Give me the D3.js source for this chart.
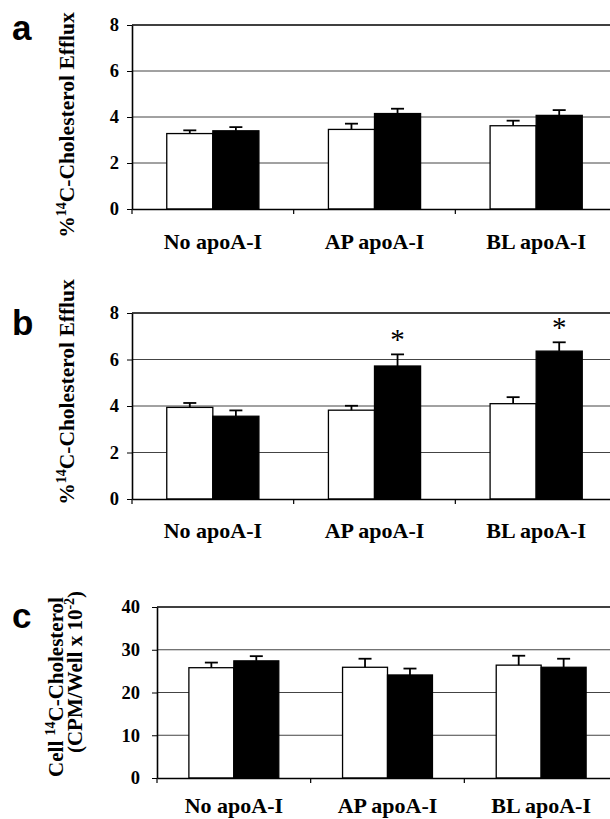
<!DOCTYPE html>
<html><head><meta charset="utf-8">
<script src="https://cdn.jsdelivr.net/npm/d3@7"></script>
<style>body{margin:0;background:#fff} svg text{font-family:"Liberation Serif","Times New Roman",serif !important;font-weight:bold;fill:#000}</style>
</head><body><svg id="chart" width="610" height="819"></svg>
<script>
// ---- data ----
const categories = ["No apoA-I", "AP apoA-I", "BL apoA-I"];
const series = ["white", "black"];

const aWhite = [3.28, 3.46, 3.62];
const aWhiteErr = [0.14, 0.25, 0.22];
const aBlack = [3.40, 4.15, 4.07];
const aBlackErr = [0.16, 0.21, 0.23];

const bWhite = [3.94, 3.82, 4.10];
const bWhiteErr = [0.19, 0.19, 0.28];
const bBlack = [3.56, 5.72, 6.36];
const bBlackErr = [0.25, 0.50, 0.38];
const bBlackSignificant = [false, true, true];

const cWhite = [25.8, 25.9, 26.4];
const cWhiteErr = [1.2, 2.0, 2.2];
const cBlack = [27.4, 24.1, 25.9];
const cBlackErr = [1.1, 1.5, 2.0];

const effluxTicks = [0, 2, 4, 6, 8];
const cellTicks = [0, 10, 20, 30, 40];

// ---- drawing ----
const svg = d3.select("#chart");
const fillOf = {white: "#fff", black: "#000"};

const panels = [
  {letter: "a", lx: 12, ly: 40, left: 132, right: 617, top: 25, bottom: 209, ticks: effluxTicks,
   white: aWhite, whiteErr: aWhiteErr, black: aBlack, blackErr: aBlackErr, sig: null,
   barFrac: 0.57, tickPad: 8, catY: 249},
  {letter: "b", lx: 12, ly: 335, left: 132, right: 617, top: 313, bottom: 499, ticks: effluxTicks,
   white: bWhite, whiteErr: bWhiteErr, black: bBlack, blackErr: bBlackErr, sig: bBlackSignificant,
   barFrac: 0.57, tickPad: 8, catY: 538},
  {letter: "c", lx: 12, ly: 628, left: 157, right: 618, top: 607, bottom: 778, ticks: cellTicks,
   white: cWhite, whiteErr: cWhiteErr, black: cBlack, blackErr: cBlackErr, sig: null,
   barFrac: 0.585, tickPad: 12, catY: 813}
];

panels.forEach(p => {
  const g = svg.append("g");
  const x0 = d3.scaleBand().domain(categories).range([p.left, p.right]).padding(0);
  const y = d3.scaleLinear().domain([p.ticks[0], p.ticks[p.ticks.length - 1]]).range([p.bottom, p.top]);
  const x1 = d3.scaleBand().domain(series).range([0, x0.bandwidth() * p.barFrac]);
  const off = x0.bandwidth() * (1 - p.barFrac) / 2;
  const yMax = p.ticks[p.ticks.length - 1];

  g.append("g").selectAll("line").data(p.ticks.slice(1, -1)).join("line")
    .attr("x1", p.left).attr("x2", p.right)
    .attr("y1", d => y(d)).attr("y2", d => y(d))
    .attr("stroke", "#444").attr("stroke-width", 1);
  g.append("line").attr("x1", p.left).attr("x2", p.right)
    .attr("y1", y(yMax)).attr("y2", y(yMax))
    .attr("stroke", "#000").attr("stroke-width", 1.6);
  g.append("line").attr("x1", p.right).attr("x2", p.right)
    .attr("y1", y(yMax)).attr("y2", y(0)).attr("stroke", "#000").attr("stroke-width", 1.6);

  const rows = categories.map((c, i) => [
    {cat: c, s: "white", v: p.white[i], e: p.whiteErr[i], sig: false},
    {cat: c, s: "black", v: p.black[i], e: p.blackErr[i], sig: p.sig ? p.sig[i] : false}
  ]).flat();

  const bx = d => x0(d.cat) + off + x1(d.s);
  const cx = d => bx(d) + x1.bandwidth() / 2;
  g.append("g").selectAll("rect").data(rows).join("rect")
    .attr("x", bx).attr("width", x1.bandwidth())
    .attr("y", d => y(d.v)).attr("height", d => y(0) - y(d.v))
    .attr("fill", d => fillOf[d.s]).attr("stroke", "#000").attr("stroke-width", 1.3);
  const eg = g.append("g").attr("stroke", "#000").attr("stroke-width", 1.8);
  eg.selectAll("line.v").data(rows).join("line").attr("class", "v")
    .attr("x1", cx).attr("x2", cx)
    .attr("y1", d => y(d.v)).attr("y2", d => y(d.v + d.e));
  eg.selectAll("line.c").data(rows).join("line").attr("class", "c")
    .attr("x1", d => cx(d) - 6.5).attr("x2", d => cx(d) + 6.5)
    .attr("y1", d => y(d.v + d.e)).attr("y2", d => y(d.v + d.e));
  g.append("g").selectAll("text").data(rows.filter(d => d.sig)).join("text")
    .attr("x", cx).attr("y", d => y(d.v + d.e) - 5)
    .attr("text-anchor", "middle").style("font-weight", "normal").style("font-size", "29px").text("*");

  const ya = g.append("g").attr("transform", `translate(${p.left},0)`)
    .call(d3.axisLeft(y).tickValues(p.ticks).tickSize(5).tickSizeOuter(0).tickPadding(p.tickPad).tickFormat(d3.format("d")));
  ya.attr("font-size", null);
  ya.select(".domain").attr("stroke-width", 1.6);
  ya.selectAll("text").style("font-size", "18.5px");
  const xa = g.append("g").attr("transform", `translate(0,${p.bottom})`)
    .call(d3.axisBottom(x0).tickSize(0).tickSizeOuter(0).tickFormat(""));
  xa.select(".domain").attr("stroke-width", 1.6);
  xa.selectAll("line.bt").data(categories).join("line").attr("class", "bt")
    .attr("x1", d => x0(d)).attr("x2", d => x0(d)).attr("y1", 0).attr("y2", 5)
    .attr("stroke", "#000").attr("stroke-width", 1.2);
  g.append("g").selectAll("text").data(categories).join("text")
    .attr("x", d => x0(d) + x0.bandwidth() / 2).attr("y", p.catY)
    .attr("text-anchor", "middle").style("font-size", "22px").text(d => d);

  g.append("text").attr("x", p.lx).attr("y", p.ly)
    .attr("style", "font-family:'Liberation Sans',Arial,sans-serif !important;font-size:35px;font-weight:bold").text(p.letter);
});

function effluxTitle(tx, ty) {
  const t = svg.append("text").attr("transform", `translate(${tx},${ty}) rotate(-90)`)
    .attr("text-anchor", "middle").style("font-size", "21.5px");
  t.append("tspan").text("%");
  t.append("tspan").attr("dy", -8).style("font-size", "14px").text("14");
  t.append("tspan").attr("dy", 8).text("C-Cholesterol Efflux");
}
effluxTitle(74, 125);
effluxTitle(74, 392);

const c1 = svg.append("text").attr("transform", "translate(63,687) rotate(-90)")
  .attr("text-anchor", "middle").style("font-size", "21px");
c1.append("tspan").text("Cell ");
c1.append("tspan").attr("dy", -8).style("font-size", "14px").text("14");
c1.append("tspan").attr("dy", 8).text("C-Cholesterol");
const c2 = svg.append("text").attr("transform", "translate(82,672) rotate(-90)")
  .attr("text-anchor", "middle").style("font-size", "21px");
c2.append("tspan").text("(CPM/Well x 10");
c2.append("tspan").attr("dy", -8).style("font-size", "14px").text("-2");
c2.append("tspan").attr("dy", 8).text(")");
</script>
</body></html>
